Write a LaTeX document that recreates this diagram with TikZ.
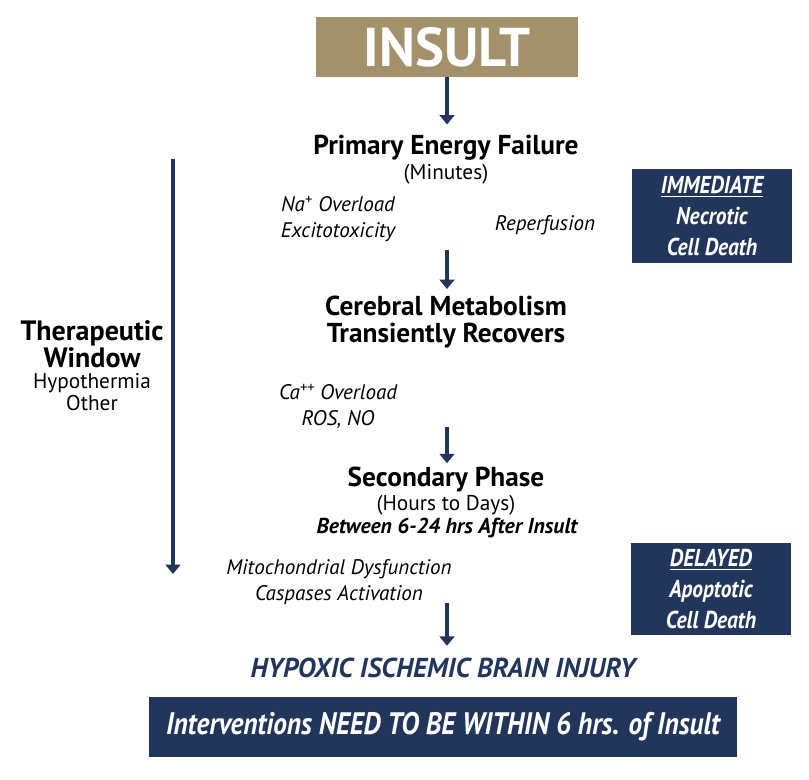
\documentclass[tikz,border=0pt]{standalone}
\usepackage{fontspec}
\setmainfont{PT Sans}
\newfontfamily\narrowfont[FakeStretch=0.88]{PT Sans}
\usetikzlibrary{arrows.meta,positioning,calc}
\definecolor{Gold}{HTML}{A3916C}
\definecolor{Navy}{HTML}{22355A}

\begin{document}
\begin{tikzpicture}[x=.75pt,y=-.75pt,
    flowarrow/.style={draw=Navy,line width=3.7pt,-{Triangle[width=11pt,length=7pt]}},
    stagetext/.style={font=\bfseries\fontsize{20.5}{20.25}\selectfont,align=center,inner sep=0pt},
    subtext/.style={font=\fontsize{16}{16.5}\selectfont,align=center,inner sep=0pt},
    notetext/.style={font=\itshape\fontsize{15.8}{19.5}\selectfont,align=center,inner sep=0pt},
    deathbox/.style={fill=Navy,text=white,font=\narrowfont\bfseries\itshape\fontsize{18.3}{23}\selectfont,align=center,minimum width=120pt,inner sep=0pt}]
    \useasboundingbox (0,0) rectangle (809,779);
    \node[fill=Gold,text=white,font=\bfseries\fontsize{41}{42}\selectfont,minimum width=196.5pt,minimum height=45pt,inner sep=0pt] (insult) at (447,47) {INSULT};
    \node[stagetext] (pef) at (446,148) {Primary Energy Failure};
    \node[subtext] (minutes) at (446,174) {(Minutes)};
    \node[notetext] (naover) at (338,219) {Na\textsuperscript{+} Overload\\Excitotoxicity};
    \node[notetext] (reperf) at (545,225) {Reperfusion};
    \node[stagetext] (cmr) at (446,322) {Cerebral Metabolism\\Transiently Recovers};
    \node[notetext] (caover) at (338,406) {Ca\textsuperscript{++} Overload\\ROS, NO};
    \node[stagetext] (sp) at (446,480) {Secondary Phase};
    \node[subtext] (hours) at (446,505) {(Hours to Days)};
    \node[font=\bfseries\itshape\fontsize{16.2}{17}\selectfont,inner sep=0pt] (between) at (447,528) {Between 6-24 hrs After Insult};
    \node[notetext] (mito) at (339,582) {Mitochondrial Dysfunction\\Caspases Activation};
    \node[text=Navy,font=\bfseries\itshape\fontsize{20.5}{22}\selectfont,inner sep=0pt] (hibi) at (443,668) {HYPOXIC ISCHEMIC BRAIN INJURY};
    \node[fill=Navy,text=white,font=\narrowfont\bfseries\itshape\fontsize{23.3}{24}\selectfont,minimum width=441pt,minimum height=45pt,inner sep=0pt] (interv) at (443,727) {Interventions NEED TO BE WITHIN 6 hrs. of Insult};
    \node[deathbox,minimum height=70.5pt] (immed) at (712,216) {\underline{IMMEDIATE}\\Necrotic\\Cell Death};
    \node[deathbox,minimum height=69pt] (delay) at (711,589) {\underline{DELAYED}\\Apoptotic\\Cell Death};
    \node[font=\bfseries\fontsize{21}{18.75}\selectfont,align=center,inner sep=0pt,anchor=base] (therap) at (92,367) {Therapeutic\\Window};
    \node[subtext,anchor=base] (hypo) at (92,410) {Hypothermia\\Other};
    \coordinate (a2) at (447,250);
    \coordinate (a3) at (447,427);
    \coordinate (a4) at (447,603);
    \coordinate (twtop) at (173,159);
    \coordinate (twbot) at (173,574);
    \draw[flowarrow,shorten >=8pt] (insult.south -| 447,0) -- (447,0 |- pef.north);
    \draw[flowarrow,shorten >=5pt] (a2) -- (a2 |- cmr.north);
    \draw[flowarrow,shorten >=3pt] (a3) -- (a3 |- sp.north);
    \draw[flowarrow,shorten >=9pt] (a4) -- (a4 |- hibi.north);
    \draw[flowarrow] (twtop) -- (twbot);
\end{tikzpicture}
\end{document}
